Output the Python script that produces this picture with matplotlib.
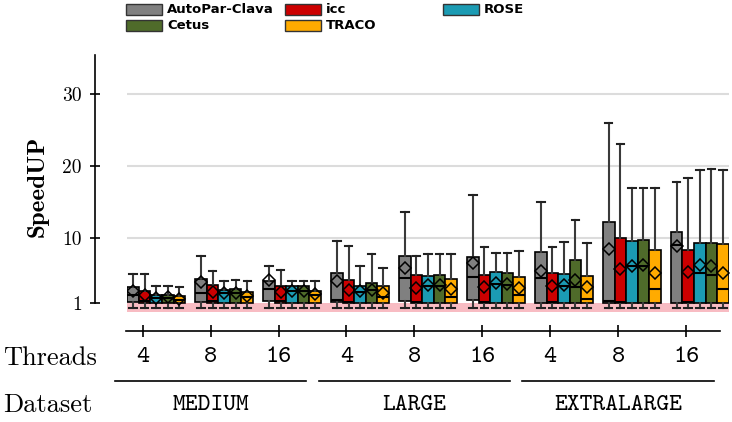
import matplotlib
matplotlib.use("Agg")
import matplotlib.pyplot as plt
import matplotlib.transforms as mtransforms
from matplotlib.patches import Rectangle
from matplotlib.lines import Line2D


tools = ["AutoPar-Clava", "icc", "ROSE", "Cetus", "TRACO"]
colors = ["#808080", "#cc0000", "#1b9bb3", "#4f6b2a", "#ffab00"]

threads = ["4", "8", "16", "4", "8", "16", "4", "8", "16"]
datasets = ["MEDIUM", "LARGE", "EXTRALARGE"]

# box statistics per tool, one value per (dataset, threads) group
q3 = {
    "AutoPar-Clava": [3.24, 4.35, 4.1, 5.18, 7.48, 7.34, 8.09, 12.28, 10.8],
    "icc": [2.77, 3.56, 3.42, 4.25, 4.85, 4.94, 5.26, 10.0, 8.36],
    "ROSE": [2.11, 2.87, 3.42, 3.42, 4.8, 5.32, 5.08, 9.56, 9.38],
    "Cetus": [2.17, 2.97, 3.42, 3.88, 4.88, 5.18, 7.06, 9.79, 9.38],
    "TRACO": [2.04, 2.5, 2.77, 3.42, 4.35, 4.67, 4.76, 8.36, 9.2],
}
med = {
    "AutoPar-Clava": [2.2, 2.41, 3.0, 1.5, 4.57, 4.71, 4.49, 1.3, 9.1],
    "icc": [1.3, 1.3, 1.3, 1.2, 1.2, 1.2, 1.2, 1.2, 1.2],
    "ROSE": [1.7, 2.41, 2.7, 2.63, 3.42, 3.7, 3.42, 6.1, 5.13],
    "Cetus": [1.8, 2.41, 2.7, 2.87, 3.42, 3.56, 3.24, 6.1, 4.9],
    "TRACO": [1.5, 1.9, 2.1, 1.94, 1.94, 2.17, 1.66, 3.05, 3.0],
}
mean = {
    "AutoPar-Clava": [2.77, 3.9, 4.2, 4.02, 5.87, 6.56, 5.54, 8.55, 8.96],
    "icc": [2.17, 2.54, 2.63, 2.87, 3.1, 3.24, 3.42, 5.78, 5.4],
    "ROSE": [1.74, 2.41, 2.73, 2.7, 3.56, 3.8, 3.56, 6.23, 6.37],
    "Cetus": [1.83, 2.41, 2.73, 2.87, 3.56, 3.7, 4.16, 6.33, 6.2],
    "TRACO": [1.6, 2.04, 2.27, 2.4, 2.97, 3.1, 3.28, 5.13, 5.22],
}
whishi = {
    "AutoPar-Clava": [5.04, 7.48, 6.23, 9.56, 13.63, 15.93, 14.96, 25.96, 17.8],
    "icc": [5.04, 5.54, 5.63, 8.87, 7.58, 8.73, 8.82, 23.0, 18.4],
    "ROSE": [3.35, 4.02, 4.02, 6.19, 7.85, 8.03, 9.5, 16.95, 19.5],
    "Cetus": [3.35, 4.25, 4.02, 7.81, 7.85, 8.03, 12.5, 16.95, 19.6],
    "TRACO": [3.24, 4.02, 4.02, 5.87, 7.85, 8.17, 9.28, 16.95, 19.5],
}
q1 = {
    "AutoPar-Clava": [1.15, 1.2, 1.35, 1.25, 1.3, 1.4, 1.1, 1.1, 1.1],
    "icc": [1.1, 1.1, 1.1, 1.1, 1.1, 1.1, 1.1, 1.1, 1.1],
    "ROSE": [1.0, 1.0, 1.0, 1.0, 1.0, 1.0, 1.0, 1.0, 1.0],
    "Cetus": [1.0, 1.0, 1.0, 1.0, 1.0, 1.0, 1.0, 1.0, 1.0],
    "TRACO": [1.0, 1.0, 1.0, 1.0, 1.0, 1.0, 1.0, 1.0, 1.0],
}
whislo = {
    "AutoPar-Clava": [0.35, 0.35, 0.35, 0.3, 0.3, 0.3, 0.4, 0.4, 0.4],
    "icc": [0.35, 0.35, 0.35, 0.3, 0.3, 0.3, 0.4, 0.4, 0.4],
    "ROSE": [0.35, 0.35, 0.35, 0.3, 0.3, 0.3, 0.4, 0.4, 0.4],
    "Cetus": [0.35, 0.35, 0.35, 0.3, 0.3, 0.3, 0.4, 0.4, 0.4],
    "TRACO": [0.35, 0.35, 0.35, 0.3, 0.3, 0.3, 0.4, 0.4, 0.4],
}

BOX_W = 0.17
TICK_SHIFT = -0.2

fig = plt.figure(figsize=(7.32, 4.22), dpi=100)
ax = fig.add_axes([127 / 732, 1 - 312 / 422, 602 / 732, 257 / 422])

ax.axhspan(-0.2, 1.1, color="#f8bcc3", lw=0, zorder=0)
for v in [10, 20, 30]:
    ax.axhline(v, color="#dcdcdc", lw=1.5, zorder=0.5)

for k, tool in enumerate(tools):
    stats = []
    for g in range(len(threads)):
        stats.append(dict(
            whislo=whislo[tool][g], q1=q1[tool][g], med=med[tool][g],
            q3=q3[tool][g], whishi=whishi[tool][g], mean=mean[tool][g],
            fliers=[]
        ))
    positions = [g + (k - 2) * BOX_W for g in range(len(threads))]
    bp = ax.bxp(
        stats, positions=positions, widths=BOX_W, patch_artist=True,
        showmeans=True, capwidths=0.11, manage_ticks=False,
        boxprops=dict(facecolor=colors[k], edgecolor="black", lw=1.2),
        medianprops=dict(color="black", lw=1.5),
        whiskerprops=dict(color="#3a3a3a", lw=1.5),
        capprops=dict(color="#222222", lw=1.5),
        meanprops=dict(marker="D", markerfacecolor="none",
                       markeredgecolor="black", markersize=6, markeredgewidth=1.1),
    )
    for b in bp["boxes"]:
        b.set_zorder(2)

ax.set_xlim(-0.43, 8.43)
ax.set_ylim(-0.2, 35.35)

ax.spines["top"].set_visible(False)
ax.spines["right"].set_visible(False)
ax.spines["left"].set_position(("outward", 23))
ax.spines["left"].set_bounds(1, 35.35)
ax.spines["left"].set_linewidth(1.2)
ax.spines["bottom"].set_position(("outward", 13.5))
ax.spines["bottom"].set_bounds(-0.44, 8.3)
ax.spines["bottom"].set_linewidth(1.2)

ax.set_yticks([1, 10, 20, 30])
ax.set_yticklabels(["1", "10", "20", "30"], fontfamily="cmr10", fontsize=14)
ax.tick_params(axis="y", direction="inout", length=7, width=1.2, pad=6)

tick_pos = [g + TICK_SHIFT for g in range(len(threads))]
ax.set_xticks(tick_pos)
ax.tick_params(axis="x", direction="inout", length=8, width=1.2, labelbottom=False)

fig.text(38 / 732, 1 - 186 / 422, "SpeedUP", rotation=90, ha="center", va="center",
         fontfamily="cmb10", fontsize=18)

trans = mtransforms.blended_transform_factory(ax.transData, fig.transFigure)
for x, t in zip(tick_pos, threads):
    fig.text(x, 1 - 358 / 422, t, transform=trans, ha="center", va="center",
             fontfamily="cmtt10", fontsize=18)
fig.text(3 / 732, 1 - 358 / 422, "Threads", ha="left", va="center",
         fontfamily="cmr10", fontsize=19)
fig.text(3 / 732, 1 - 405 / 422, "Dataset", ha="left", va="center",
         fontfamily="cmr10", fontsize=19)

for d, name in enumerate(datasets):
    mid = tick_pos[3 * d + 1]
    fig.add_artist(Line2D([mid - 1.41, mid + 1.41], [1 - 381 / 422] * 2,
                          transform=trans, color="black", lw=1.2))
    fig.text(mid, 1 - 405 / 422, name, transform=trans, ha="center", va="center",
             fontfamily="cmtt10", fontsize=17.5)

# legend laid out on a fixed grid, row-wise
legend_x = [126, 285, 443]
legend_y = [9.5, 25.5]
for i, tool in enumerate(tools):
    col, row = i % 3, i // 3
    x0, yc = legend_x[col], legend_y[row]
    fig.add_artist(Rectangle((x0 / 732, 1 - (yc + 5.5) / 422), 36 / 732, 11 / 422,
                             transform=fig.transFigure, facecolor=colors[i],
                             edgecolor="#333333", lw=1.0))
    fig.text((x0 + 41) / 732, 1 - yc / 422, tool, ha="left", va="center",
             fontfamily="DejaVu Sans", fontweight="bold", fontsize=9.5)

fig.savefig("out.png", dpi=100)
